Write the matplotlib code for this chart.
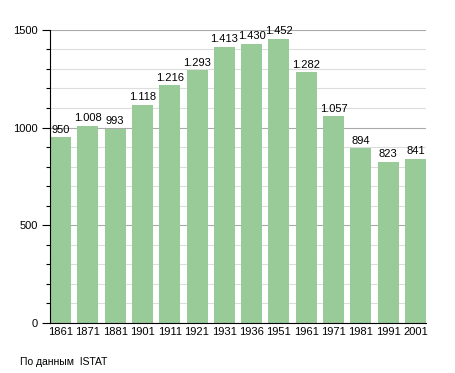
import matplotlib as mpl
import matplotlib.pyplot as plt
import matplotlib.ticker as mtick
import numpy as np

mpl.rcParams['font.family'] = 'Liberation Sans'
mpl.rcParams['font.size'] = 8

years = ['1861', '1871', '1881', '1901', '1911', '1921', '1931',
         '1936', '1951', '1961', '1971', '1981', '1991', '2001']
population = [950, 1008, 993, 1118, 1216, 1293, 1413,
              1430, 1452, 1282, 1057, 894, 823, 841]
value_labels = ['950', '1.008', '993', '1.118', '1.216', '1.293', '1.413',
                '1.430', '1.452', '1.282', '1.057', '894', '823', '841']

bar_color = '#98cb98'
bar_width = 0.77

fig = plt.figure(figsize=(4.55, 3.73), dpi=100)
ax = fig.add_axes([0.110, 0.134, 0.826, 0.786])

x = np.arange(len(years))
ax.bar(x, population, width=bar_width, color=bar_color, zorder=2)

# value labels above bars
for xi, v, lab in zip(x, population, value_labels):
    ax.text(xi, v + 14, lab, ha='center', va='bottom', fontsize=8, zorder=3)

ax.set_xlim(-bar_width / 2, len(years) - 1 + bar_width / 2)
ax.set_ylim(0, 1500)

ax.set_xticks(x)
ax.set_xticklabels(years)
ax.tick_params(axis='x', length=0, pad=3)

ax.yaxis.set_major_locator(mtick.MultipleLocator(500))
ax.yaxis.set_minor_locator(mtick.MultipleLocator(100))
ax.tick_params(axis='y', which='major', length=6, width=0.8, pad=3)
ax.tick_params(axis='y', which='minor', length=3, width=0.8)

# grid
ax.grid(which='major', axis='y', color='#aaaaaa', linewidth=0.8, zorder=0)
ax.grid(which='minor', axis='y', color='#dddddd', linewidth=0.8, zorder=0)
ax.set_axisbelow(True)

for s in ['top', 'right']:
    ax.spines[s].set_visible(False)
ax.spines['left'].set_linewidth(0.8)
ax.spines['bottom'].set_linewidth(0.8)

fig.text(20 / 455, 1 - 362 / 373, 'По данным  ISTAT', fontsize=7.5,
         ha='left', va='center')

plt.savefig('out.png', dpi=100)
